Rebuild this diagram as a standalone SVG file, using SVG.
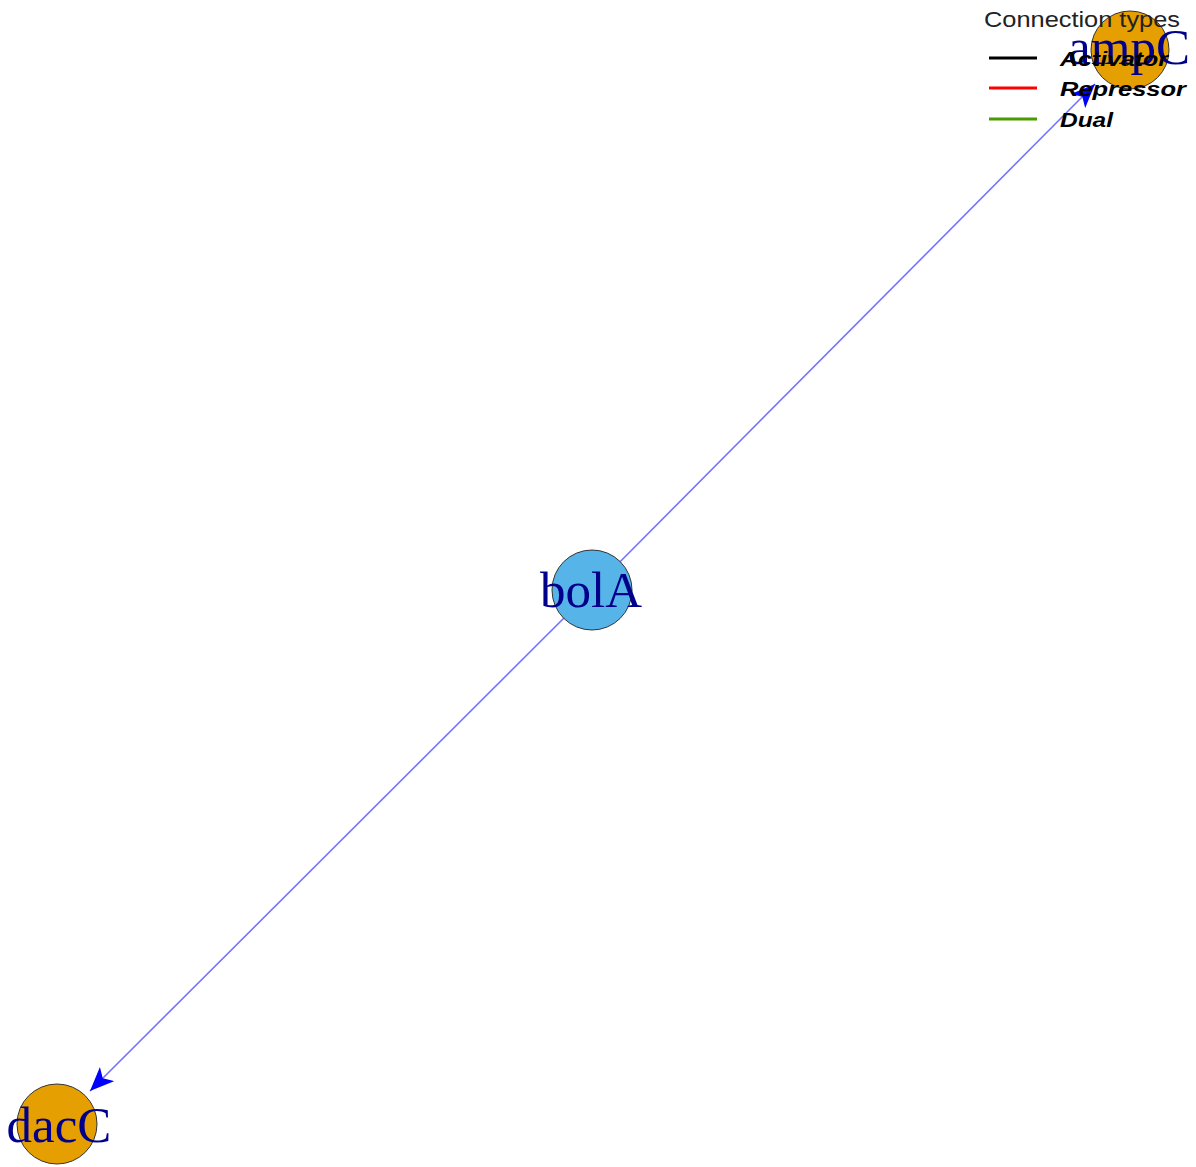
<svg xmlns="http://www.w3.org/2000/svg" width="1196" height="1167" viewBox="0 0 1196 1167">
<style>
.node circle{stroke:#333;stroke-width:1}
.lbl{font-family:"Liberation Serif",serif;font-size:51px;fill:#00008B;text-anchor:middle}
.edge{stroke:#0000ff;stroke-opacity:0.55;stroke-width:1.6;fill:none}
.leg{font-family:"Liberation Sans",sans-serif;font-size:22px}
.legi{font-family:"Liberation Sans",sans-serif;font-size:21px;font-weight:bold;font-style:italic;fill:#000}
</style>
<defs>
<marker id="arr" viewBox="0 0 24 20" refX="24" refY="10" markerWidth="24" markerHeight="20" markerUnits="userSpaceOnUse" orient="auto">
<path d="M0,0 L24,10 L0,20 L6,10 Z" fill="#0000ff"/>
</marker>
</defs>
<rect width="1196" height="1167" fill="#fff"/>
<g id="connectors">
<line class="edge" x1="592" y1="590" x2="1095" y2="84" marker-end="url(#arr)"/>
<line class="edge" x1="592" y1="590" x2="90" y2="1091" marker-end="url(#arr)"/>
</g>
<g id="node-bolA" class="node">
<circle cx="592" cy="590" r="40" fill="#56B4E9"/>
<text class="lbl" x="591" y="607">bolA</text>
</g>
<g id="node-ampC" class="node">
<circle cx="1130" cy="50" r="39" fill="#E69F00"/>
<text class="lbl" x="1129" y="64">ampC</text>
</g>
<g id="node-dacC" class="node">
<circle cx="57" cy="1124" r="40" fill="#E69F00"/>
<text class="lbl" x="59" y="1142">dacC</text>
</g>
<g id="legend">
<text class="leg" x="984" y="27" fill="#222" textLength="196" lengthAdjust="spacingAndGlyphs">Connection types</text>
<line x1="989" y1="58" x2="1037" y2="58" stroke="#000" stroke-width="3"/>
<line x1="989" y1="88" x2="1037" y2="88" stroke="#ff0000" stroke-width="3"/>
<line x1="989" y1="119" x2="1037" y2="119" stroke="#4a9a00" stroke-width="3"/>
<text class="legi" x="1060" y="66" textLength="108" lengthAdjust="spacingAndGlyphs">Activator</text>
<text class="legi" x="1060" y="96" textLength="126" lengthAdjust="spacingAndGlyphs">Repressor</text>
<text class="legi" x="1060" y="127" textLength="53" lengthAdjust="spacingAndGlyphs">Dual</text>
</g>
</svg>
